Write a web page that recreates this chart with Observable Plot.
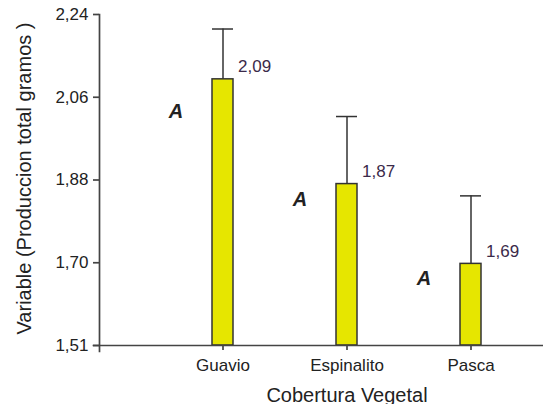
<!DOCTYPE html>
<html>
<head>
<meta charset="utf-8">
<script src="https://cdn.jsdelivr.net/npm/d3@7"></script>
<script src="https://cdn.jsdelivr.net/npm/@observablehq/plot@0.6"></script>
<style>
  html, body { margin: 0; padding: 0; background: white; }
</style>
</head>
<body>
<div id="chart"></div>
<script>
const categories = ["Guavio", "Espinalito", "Pasca"];
const means = [2.097, 1.866, 1.69];
const upperErr = [2.208, 2.015, 1.84];
const valueLabels = ["2,09", "1,87", "1,69"];
const letters = ["A", "A", "A"];
const yTicks = [1.51, 1.6925, 1.875, 2.0575, 2.24];
const yTickLabels = ["1,51", "1,70", "1,88", "2,06", "2,24"];
const xTitle = "Cobertura Vegetal";
const yTitle = "Variable (Produccion total gramos )";

const data = categories.map((c, i) => ({
  cat: c, mean: means[i], upper: upperErr[i], label: valueLabels[i], letter: letters[i]
}));

const axisColor = "#444";
const chart = Plot.plot({
  width: 543,
  height: 404,
  marginLeft: 99,
  marginRight: 0,
  marginTop: 14,
  marginBottom: 59,
  style: { fontFamily: "'Liberation Sans', Arial, sans-serif", background: "white", color: "#222" },
  x: { type: "band", domain: categories, range: [212, 481.5], paddingInner: 0.831, paddingOuter: 0, label: null },
  y: { domain: [1.51, 2.24], label: null },
  marks: [
    Plot.barY(data, { x: "cat", y1: 1.51, y2: "mean", fill: "#e6e600", stroke: "#333", strokeWidth: 1.5 }),
    Plot.ruleX(data, { x: "cat", y1: "mean", y2: "upper", stroke: "#333", strokeWidth: 1.5 }),
    Plot.tickY(data, { x: "cat", y: "upper", stroke: "#333", strokeWidth: 1.5 }),
    Plot.text(data, { x: "cat", y: "mean", text: "label", textAnchor: "start", dx: 15, dy: -12.5, fontSize: 17, fill: "#3b2a4a" }),
    Plot.text(data, { x: "cat", y: "upper", text: "letter", dx: -47, dy: 83, fontSize: 20, fontWeight: "bold", fontStyle: "italic", fill: "#222" }),
    Plot.frame({ anchor: "left", stroke: axisColor, strokeWidth: 1.7, insetBottom: -6 }),
    Plot.frame({ anchor: "bottom", stroke: axisColor, strokeWidth: 1.7, insetLeft: -6 }),
    Plot.axisY({ ticks: yTicks, tickFormat: d => yTickLabels[yTicks.indexOf(d)], tickSize: 6, tickPadding: 5, fontSize: 17, stroke: axisColor, strokeWidth: 1.7, fill: "#222", label: null }),
    Plot.axisX({ tickSize: 5, tickPadding: 8, fontSize: 17, stroke: axisColor, strokeWidth: 1.7, fill: "#222", label: null }),
    Plot.text([xTitle], { frameAnchor: "bottom", textAnchor: "middle", dx: 25.5, dy: 56, lineAnchor: "bottom", fontSize: 20, fill: "#222" }),
    Plot.text([yTitle], { frameAnchor: "left", textAnchor: "middle", lineAnchor: "middle", dx: -75, dy: -1.5, rotate: -90, fontSize: 20, fill: "#222" })
  ]
});
document.getElementById("chart").appendChild(chart);
</script>
</body>
</html>
